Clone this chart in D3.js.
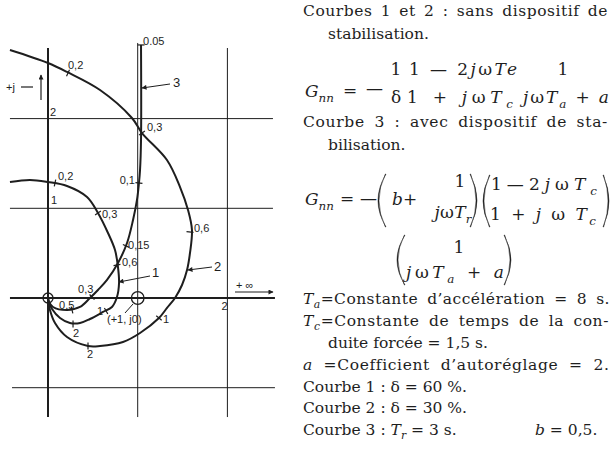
<!DOCTYPE html>
<html><head><meta charset="utf-8">
<script src="https://cdn.jsdelivr.net/npm/d3@7"></script>
<style>body{margin:0;background:#fff;} svg{display:block;}</style>
</head><body>
<svg id="c" width="612" height="454"></svg>
<script>
// ---------- DATA (complex plane: [real, imaginary]) ----------
const curve1 = [[-0.424,1.293],[-0.201,1.316],[0,1.293],[0.212,1.249],[0.435,1.126],[0.557,0.948],
  [0.669,0.725],[0.747,0.535],[0.780,0.346],[0.792,0.167],[0.769,0.011],[0.713,-0.100],[0.613,-0.156],
  [0.468,-0.234],[0.357,-0.279],[0.245,-0.279],[0.134,-0.223],[0.045,-0.123],[0.011,-0.045],[0,0]];
const curve2 = [[-0.424,2.765],[0,2.620],[0.212,2.520],[0.580,2.319],[0.936,2.007],[1.048,1.839],
  [1.326,1.538],[1.472,1.237],[1.561,0.981],[1.605,0.758],[1.583,0.502],[1.550,0.312],[1.494,0.145],
  [1.416,0],[1.327,-0.111],[1.237,-0.223],[1.026,-0.390],[0.836,-0.491],[0.580,-0.535],[0.446,-0.535],
  [0.212,-0.435],[0.078,-0.279],[0.022,-0.134],[0,0]];
const curve3 = [[1.037,2.821],[1.037,1.761],[1.026,1.427],[1.014,1.282],[0.992,1.093],[0.948,0.870],
  [0.881,0.613],[0.780,0.390],[0.658,0.201],[0.557,0.089],[0.468,0],[0.357,-0.100],[0.212,-0.134],
  [0.056,-0.100],[0.010,-0.040],[0,0]];
// frequency marks on each curve: [label, real, imag]
const marks1 = [["0,2",0.078,1.282],["0,3",0.557,0.948],["0,6",0.769,0.368],["1",0.648,-0.145],["2",0.279,-0.290]];
const marks2 = [["0,2",0.223,2.508],["0,3",1.048,1.839],["0,6",1.583,0.736],["1",1.237,-0.223],["2",0.446,-0.535]];
const marks3 = [["0.05",1.037,2.821],["0,1",1.014,1.282],["0,15",0.870,0.580],["0,3",0.491,0.011],["0,5",0.268,-0.134]];
const gridRe = [0,1,2];
const gridIm = [-1,0,1,2];
const axisTickLabels = [["2",0,2],["1",0,1],["2",2,0]];
const criticalPoint = [1,0];

const notes = [
  [["Courbes 1 et 2 : sans dispositif de"]],
  [["stabilisation."]],
  [["Courbe 3 : avec dispositif de sta-"]],
  [["bilisation."]],
  [["T","i"],["a","is"],["=Constante d\u2019acc\u00e9l\u00e9ration = 8 s."]],
  [["T","i"],["c","is"],["=Constante de temps de la con-"]],
  [["duite forc\u00e9e = 1,5 s."]],
  [["a","i"],[" =Coefficient d\u2019autor\u00e9glage = 2."]],
  [["Courbe 1 : \u03b4  = 60 %."]],
  [["Courbe 2 : \u03b4  = 30 %."]],
  [["Courbe 3 : "],["T","i"],["r","is"],[" = 3 s."]],
  [["b","i"],[" = 0,5."]]
];

// ---------- LAYOUT ----------
const svg = d3.select("#c");
const x = d3.scaleLinear().domain([0,2]).range([48,227.4]);
const y = d3.scaleLinear().domain([0,2]).range([298,118.6]);
const ink = "#1e1e1e";
const sans = "Liberation Sans";
const serif = "DejaVu Serif";

const defs = svg.append("defs");
defs.append("marker").attr("id","ah").attr("viewBox","0 0 10 10").attr("refX",9).attr("refY",5)
  .attr("markerWidth",7).attr("markerHeight",5).attr("orient","auto-start-reverse").attr("markerUnits","userSpaceOnUse")
  .append("path").attr("d","M0,0L10,5L0,10Z").attr("fill",ink);

function stxt(sel, xp, yp, s, size, anchor) {
  return sel.append("text").attr("x",xp).attr("y",yp).attr("text-anchor",anchor||"start")
    .style("font-family",sans).style("font-size",size+"px").attr("fill",ink).text(s);
}

// grid
const g = svg.append("g");
const vExt = {0:[-1.327,2.787],1:[-1.327,2.843],2:[-1.327,2.787]};
gridRe.forEach(r => g.append("line").attr("x1",x(r)).attr("x2",x(r)).attr("y1",y(vExt[r][0])).attr("y2",y(vExt[r][1]))
  .attr("stroke",ink).attr("stroke-width", r===0?2:1));
const hExt = {"-1":[-0.401,2.53],"0":[-0.424,2.53],"1":[-0.424,2.508],"2":[-0.424,2.508]};
gridIm.forEach(i => g.append("line").attr("y1",y(i)).attr("y2",y(i)).attr("x1",x(hExt[i][0])).attr("x2",x(hExt[i][1]))
  .attr("stroke",ink).attr("stroke-width", i===0?2:1));

// curves
const line = d3.line().x(d=>x(d[0])).y(d=>y(d[1])).curve(d3.curveCatmullRom.alpha(0.5));
[curve1,curve2,curve3].forEach(c => g.append("path").attr("d",line(c)).attr("fill","none")
  .attr("stroke",ink).attr("stroke-width",2));

// marks
function drawMarks(curve, marks, offs) {
  const pts = curve.map(d=>[x(d[0]),y(d[1])]);
  marks.forEach((m,k) => {
    const px = x(m[1]), py = y(m[2]);
    let best = 1e9, dir = [0,1];
    for (let i=0;i<pts.length-1;i++){
      const a=pts[i], b=pts[i+1];
      const mx=(a[0]+b[0])/2, my=(a[1]+b[1])/2;
      const d=(mx-px)**2+(my-py)**2;
      if(d<best){best=d; const L=Math.hypot(b[0]-a[0],b[1]-a[1])||1; dir=[(b[0]-a[0])/L,(b[1]-a[1])/L];}
    }
    const nx=-dir[1]*3.5, ny=dir[0]*3.5;
    g.append("line").attr("x1",px-nx).attr("y1",py-ny).attr("x2",px+nx).attr("y2",py+ny)
      .attr("stroke",ink).attr("stroke-width",1.2);
    const o = offs[k];
    stxt(g, px+o[0], py+o[1], m[0], 11, o[2]);
  });
}
drawMarks(curve1, marks1, [[3,-3],[4,5],[5,1],[-3,4,"end"],[0,13]]);
drawMarks(curve2, marks2, [[0,-4],[5,-2],[4,0],[4,5],[-1,12]]);
drawMarks(curve3, marks3, [[2,0],[-4,1,"end"],[2,3],[-14,-4],[-13,-1]]);

// axis value labels
const albOff = [[2,-3],[3,-4],[-6,12]];
axisTickLabels.forEach((a,k)=> stxt(g, x(a[1])+albOff[k][0], y(a[2])+albOff[k][1], a[0], 11));

// critical point and origin circles
g.append("circle").attr("cx",x(0)).attr("cy",y(0)).attr("r",5).attr("fill","none").attr("stroke",ink).attr("stroke-width",1.3);
g.append("circle").attr("cx",x(criticalPoint[0])).attr("cy",y(criticalPoint[1])).attr("r",6.3).attr("fill","none").attr("stroke",ink).attr("stroke-width",1.3);
stxt(g, 107, 323, "(+1, j0)", 11);
g.append("line").attr("x1",125).attr("y1",313).attr("x2",133).attr("y2",304).attr("stroke",ink).attr("stroke-width",1);

// curve number labels with leaders
[["3",173,87,[170,84],[142,88]],["1",152,277,[150,276],[119,282]],["2",214,271,[212,267],[188,270]]].forEach(l=>{
  g.append("line").attr("x1",l[3][0]).attr("y1",l[3][1]).attr("x2",l[4][0]).attr("y2",l[4][1])
    .attr("stroke",ink).attr("stroke-width",1).attr("marker-end","url(#ah)");
  stxt(g, l[1], l[2], l[0], 13);
});

// +j indicator and +infinity
stxt(g, 6, 91, "+j", 11);
g.append("line").attr("x1",21).attr("y1",87).attr("x2",33).attr("y2",87).attr("stroke",ink).attr("stroke-width",1.2);
g.append("line").attr("x1",41).attr("y1",100).attr("x2",41).attr("y2",75).attr("stroke",ink).attr("stroke-width",1.2).attr("marker-end","url(#ah)");
stxt(g, 236, 289, "+ \u221e", 11);
g.append("line").attr("x1",235).attr("y1",292).attr("x2",273).attr("y2",292).attr("stroke",ink).attr("stroke-width",1).attr("marker-end","url(#ah)");

// ---------- RIGHT-HAND TEXT ----------
const T = svg.append("g");
function rich(xp, yp, parts, o={}) {
  const size = o.size || 15.5;
  const t = T.append("text").attr("x",xp).attr("y",yp).attr("fill",ink)
    .style("font-family",serif).style("font-size",size+"px");
  let shift = 0;
  parts.forEach(p => {
    const s = p[0], st = p[1] || "";
    const ts = t.append("tspan").text(s);
    const target = st.includes("s") ? size*0.28 : 0;
    if (target !== shift) { ts.attr("dy", target - shift); shift = target; }
    if (st.includes("i")) ts.style("font-style","italic");
    if (st.includes("s")) ts.style("font-size", (size*0.7)+"px");
  });
  if (o.anchor) t.attr("text-anchor", o.anchor);
  if (o.len) {
    const nat = t.node().getComputedTextLength();
    const str = parts.map(p=>p[0]).join("");
    const spaces = str.split(" ").length - 1;
    if (spaces > 0 && !o.glyph) {
      const extra = Math.max(0, o.len - nat);
      t.style("letter-spacing", (extra*0.5/str.length) + "px");
      t.style("word-spacing", (extra*0.5/spaces) + "px");
    } else {
      t.attr("textLength", o.len).attr("lengthAdjust","spacing");
    }
  }
  return t;
}
// [x, baseline, justified width or null]
const noteLayout = [[303,16,305],[328,39,null],[303,127,305],[328,150,null],[303,304,307],[303,326,306],
  [328,348,null],[303,370,306],[303,392,null],[303,413,null],[303,435,null],[535,435,null]];
notes.forEach((n,k)=> rich(noteLayout[k][0], noteLayout[k][1], n, {len: noteLayout[k][2]}));

const F = 17; // formula size
// formula 1
rich(305, 97, [["G","i"],["nn","is"]], {size:F});
rich(343, 96, [["="]], {size:F});
rich(366, 94, [["\u2014"]], {size:F});
rich(396, 75, [["1"]], {anchor:"middle", size:F});
rich(396, 103, [["\u03b4"]], {anchor:"middle", size:F});
rich(463, 75, [["1 \u2014 2"],["j","i"],["\u03c9"],["Te","i"]], {anchor:"middle", len:108, size:F, glyph:true});
rich(460, 103, [["1 + "],["j","i"],["\u03c9"],["T","i"],["c","is"]], {anchor:"middle", len:106, size:F, glyph:true});
rich(563, 75, [["1"]], {anchor:"middle", size:F});
rich(566, 103, [["j","i"],["\u03c9"],["T","i"],["a","is"],[" + "],["a","i"]], {anchor:"middle", len:86, size:F, glyph:true});

// formula 2
function paren(xEnd, xMax, y0, y1) {
  const mid=(y0+y1)/2, c = 2*xMax - xEnd, s = Math.sign(xMax-xEnd);
  T.append("path").attr("d",`M${xEnd},${y0} Q${c},${mid} ${xEnd},${y1} L${xEnd+0.6*s},${y1} Q${c-2.6*s},${mid} ${xEnd+0.6*s},${y0} Z`)
    .attr("fill",ink).attr("stroke",ink).attr("stroke-width",0.5);
}
rich(305, 205, [["G","i"],["nn","is"]], {size:F});
rich(340, 204, [["=\u2014"]], {size:F, len:37});
paren(386, 378, 174, 227);
rich(392, 205, [["b","i"],["+"]], {size:F});
rich(460, 187, [["1"]], {anchor:"middle", size:F});
rich(453, 218, [["j","i"],["\u03c9"],["T","i"],["r","is"]], {anchor:"middle", len:37, size:F});
paren(470, 477, 174, 227);
paren(490, 483, 175, 227);
rich(544, 190, [["1\u20142"],["j","i"],["\u03c9"],["T","i"],["c","is"]], {anchor:"middle", len:106, size:F});
rich(543, 220, [["1 + "],["j","i"],[" \u03c9 "],["T","i"],["c","is"]], {anchor:"middle", len:106, size:F, glyph:true});
paren(603, 609, 175, 227);
// formula 3
paren(405, 397, 235, 285);
rich(459, 253, [["1"]], {anchor:"middle", size:F});
rich(455, 278, [["j","i"],["\u03c9"],["T","i"],["a","is"],[" + "],["a","i"]], {anchor:"middle", len:98, size:F, glyph:true});
paren(504, 511, 235, 285);
</script>
</body></html>
